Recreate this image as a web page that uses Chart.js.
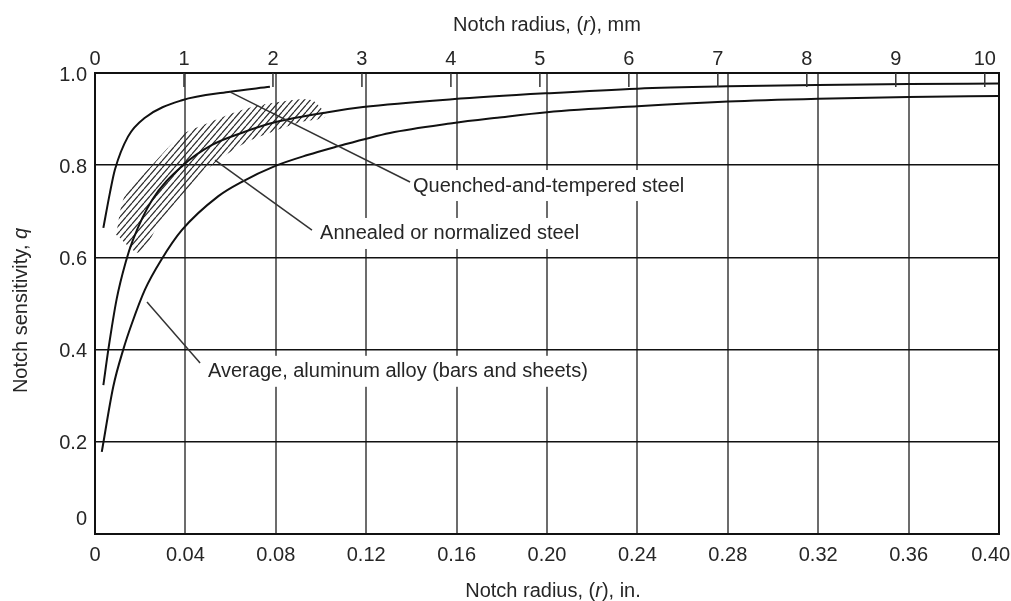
<!DOCTYPE html>
<html>
<head>
<meta charset="utf-8">
<script src="https://cdn.jsdelivr.net/npm/chart.js@4.4.0/dist/chart.umd.min.js"></script>
<style>
html,body{margin:0;padding:0;background:#ffffff;}
#wrap{width:1011px;height:601px;}
</style>
</head>
<body>
<div id="wrap"><canvas id="c" width="1011" height="601"></canvas></div>
<script>
// ---- tick labels ----
const xTicksIn = [0, 0.04, 0.08, 0.12, 0.16, 0.20, 0.24, 0.28, 0.32, 0.36, 0.40];
const xTicksMm = [0, 1, 2, 3, 4, 5, 6, 7, 8, 9, 10];
const yTicks = [0, 0.2, 0.4, 0.6, 0.8, 1.0];

// ---- series: notch radius (in.) vs notch sensitivity q ----
const quenchedX = [0.0037, 0.0066, 0.0088, 0.0146, 0.0221, 0.0385, 0.059, 0.0774];
const quenchedY = [0.664, 0.740, 0.790, 0.862, 0.903, 0.941, 0.959, 0.970];

const annealedX = [0.0037, 0.0059, 0.0096, 0.0136, 0.0168, 0.0252, 0.039, 0.0518, 0.066, 0.0796, 0.103, 0.1186, 0.158, 0.20, 0.24, 0.28, 0.32, 0.36, 0.40];
const annealedY = [0.323, 0.400, 0.510, 0.590, 0.638, 0.724, 0.800, 0.844, 0.872, 0.893, 0.915, 0.926, 0.943, 0.956, 0.966, 0.971, 0.974, 0.976, 0.977];

const aluminumX = [0.003, 0.0081, 0.0125, 0.0162, 0.0221, 0.0295, 0.0384, 0.0546, 0.065, 0.0796, 0.094, 0.106, 0.1305, 0.158, 0.178, 0.20, 0.24, 0.28, 0.32, 0.36, 0.40];
const aluminumY = [0.178, 0.320, 0.400, 0.455, 0.530, 0.596, 0.659, 0.733, 0.764, 0.798, 0.822, 0.839, 0.870, 0.891, 0.903, 0.915, 0.928, 0.938, 0.944, 0.948, 0.950];

// scatter band (hatched) around the annealed curve: outline, upper edge then lower edge
const bandX = [0.0093, 0.0133, 0.0252, 0.0385, 0.0487, 0.065, 0.081, 0.096, 0.1018, 0.0916, 0.0783, 0.0664, 0.0518, 0.0398, 0.0279, 0.0199, 0.0093];
const bandY = [0.649, 0.735, 0.800, 0.866, 0.889, 0.920, 0.937, 0.941, 0.905, 0.894, 0.872, 0.848, 0.800, 0.742, 0.670, 0.610, 0.649];

// ---- annotation labels (data units) ----
const labelText = ['Quenched-and-tempered steel', 'Annealed or normalized steel', 'Average, aluminum alloy (bars and sheets)'];
const labelX = [0.1407, 0.0996, 0.0500];
const labelY = [0.757, 0.653, 0.354];
const leaderFromX = [0.0597, 0.0531, 0.0230];
const leaderFromY = [0.959, 0.811, 0.503];
const leaderToX = [0.1394, 0.0960, 0.0465];
const leaderToY = [0.7636, 0.659, 0.371];

const MM_PER_IN = 25.4;
const FONT = '"Liberation Sans", Arial, Helvetica, sans-serif';
const TXT = '#262626';

function pts(xs, ys) { return xs.map((x, i) => ({x: x, y: ys[i]})); }

// hatch pattern
function makeHatch() {
  const w = 6, h = 7;
  const c = document.createElement('canvas');
  c.width = w; c.height = h;
  const g = c.getContext('2d');
  g.strokeStyle = '#2a2a2a';
  g.lineWidth = 1.2;
  for (const x0 of [-w, 0, w]) {
    g.beginPath();
    g.moveTo(x0, h);
    g.lineTo(x0 + w, 0);
    g.stroke();
  }
  return g.createPattern(c, 'repeat');
}
const hatch = makeHatch();

const curveStyle = {
  showLine: true, pointRadius: 0, borderColor: '#111', borderWidth: 2,
  cubicInterpolationMode: 'monotone', fill: false, order: 1
};

const datasets = [
  Object.assign({label: 'Quenched-and-tempered steel', data: pts(quenchedX, quenchedY)}, curveStyle),
  Object.assign({label: 'Annealed or normalized steel', data: pts(annealedX, annealedY)}, curveStyle),
  Object.assign({label: 'Average, aluminum alloy (bars and sheets)', data: pts(aluminumX, aluminumY)}, curveStyle),
  {
    label: 'scatter band', data: pts(bandX, bandY), showLine: true, pointRadius: 0,
    borderWidth: 0, borderColor: 'rgba(0,0,0,0)', backgroundColor: hatch,
    fill: 'shape', tension: 0.3, order: 5
  }
];
labelText.forEach((t, i) => {
  datasets.push({
    label: 'leader ' + i,
    data: [{x: leaderFromX[i], y: leaderFromY[i]}, {x: leaderToX[i], y: leaderToY[i]}],
    showLine: true, pointRadius: 0, borderColor: '#333', borderWidth: 1.5, fill: false, order: 0
  });
});

const labelPlugin = {
  id: 'labels',
  beforeDatasetsDraw(chart) {
    const ctx = chart.ctx, xs = chart.scales.x, ys = chart.scales.y;
    ctx.save();
    ctx.font = '20px ' + FONT;
    ctx.textAlign = 'left';
    ctx.textBaseline = 'middle';
    labelText.forEach((t, i) => {
      const px = xs.getPixelForValue(labelX[i]);
      const py = ys.getPixelForValue(labelY[i]);
      const w = ctx.measureText(t).width;
      ctx.fillStyle = '#fff';
      ctx.fillRect(px - 5, py - 15, w + 10, 31);
      ctx.fillStyle = TXT;
      ctx.fillText(t, px, py + 1);
    });
    ctx.restore();
  },
  afterDatasetsDraw(chart) {
    const ctx = chart.ctx, x2 = chart.scales.x2, area = chart.chartArea;
    ctx.save();
    ctx.strokeStyle = '#333';
    ctx.lineWidth = 1.5;
    xTicksMm.forEach(v => {
      if (v === 0) return;
      const px = x2.getPixelForValue(v);
      ctx.beginPath();
      ctx.moveTo(px, area.top);
      ctx.lineTo(px, area.top + 14);
      ctx.stroke();
    });
    ctx.restore();
  },
  afterDraw(chart) {
    const ctx = chart.ctx, area = chart.chartArea;
    const reg = '20px ' + FONT, ita = 'italic 20px ' + FONT;
    function mixed(parts, cx, cy) {
      let total = 0;
      parts.forEach(p => { ctx.font = p[1] ? ita : reg; total += ctx.measureText(p[0]).width; });
      let x = cx - total / 2;
      parts.forEach(p => {
        ctx.font = p[1] ? ita : reg;
        ctx.fillText(p[0], x, cy);
        x += ctx.measureText(p[0]).width;
      });
    }
    ctx.save();
    ctx.fillStyle = TXT;
    ctx.textAlign = 'left';
    ctx.textBaseline = 'middle';
    const cx = (area.left + area.right) / 2;
    mixed([['Notch radius, (', false], ['r', true], ['), mm', false]], cx, 25);
    mixed([['Notch radius, (', false], ['r', true], ['), in.', false]], cx + 6, 591);
    ctx.translate(21, (area.top + area.bottom) / 2 + 7);
    ctx.rotate(-Math.PI / 2);
    mixed([['Notch sensitivity, ', false], ['q', true]], 0, 0);
    ctx.restore();
  }
};

const tickFont = {family: FONT, size: 20};

new Chart(document.getElementById('c'), {
  type: 'scatter',
  data: {datasets: datasets},
  plugins: [labelPlugin],
  options: {
    responsive: false,
    animation: false,
    events: [],
    layout: {padding: {left: 0, right: 12, top: 0, bottom: 0}},
    plugins: {legend: {display: false}, tooltip: {enabled: false}},
    scales: {
      x: {
        type: 'linear', position: 'bottom', min: 0, max: 0.40,
        afterBuildTicks: s => { s.ticks = xTicksIn.map(v => ({value: v})); },
        afterFit: s => { s.height = 67; s.paddingLeft = 0; s.paddingRight = 0; },
        ticks: {
          font: tickFont, color: TXT, padding: 9, autoSkip: false, maxRotation: 0,
          callback: v => v === 0 ? '0' : (Math.abs(v - 0.40) < 1e-9 ? '0.40   ' : v.toFixed(2))
        },
        grid: {color: '#6c6c6c', lineWidth: 2, drawTicks: false},
        border: {color: '#111', width: 2}
      },
      x2: {
        type: 'linear', position: 'top', min: 0, max: 0.40 * MM_PER_IN,
        afterBuildTicks: s => { s.ticks = xTicksMm.map(v => ({value: v})); },
        afterFit: s => { s.height = 73; s.paddingLeft = 0; s.paddingRight = 0; },
        ticks: {font: tickFont, color: TXT, padding: 2, autoSkip: false, maxRotation: 0,
          callback: v => String(v)},
        grid: {drawOnChartArea: false, drawTicks: false},
        border: {color: '#111', width: 2}
      },
      y: {
        type: 'linear', position: 'left', min: 0, max: 1,
        afterBuildTicks: s => { s.ticks = yTicks.map(v => ({value: v})); },
        afterFit: s => { s.width = 95; },
        ticks: {
          font: {family: FONT, size: 20, lineHeight: 1.7}, color: TXT, padding: 8, labelOffset: 2,
          callback: v => v === 0 ? ['0', ''] : v.toFixed(1)
        },
        grid: {color: '#111', lineWidth: 1.5, drawTicks: false},
        border: {color: '#111', width: 2}
      },
      y2: {
        type: 'linear', position: 'right', min: 0, max: 1,
        afterFit: s => { s.width = 0; },
        ticks: {display: false},
        grid: {drawOnChartArea: false, drawTicks: false},
        border: {color: '#111', width: 2}
      }
    }
  }
});
</script>
</body>
</html>
